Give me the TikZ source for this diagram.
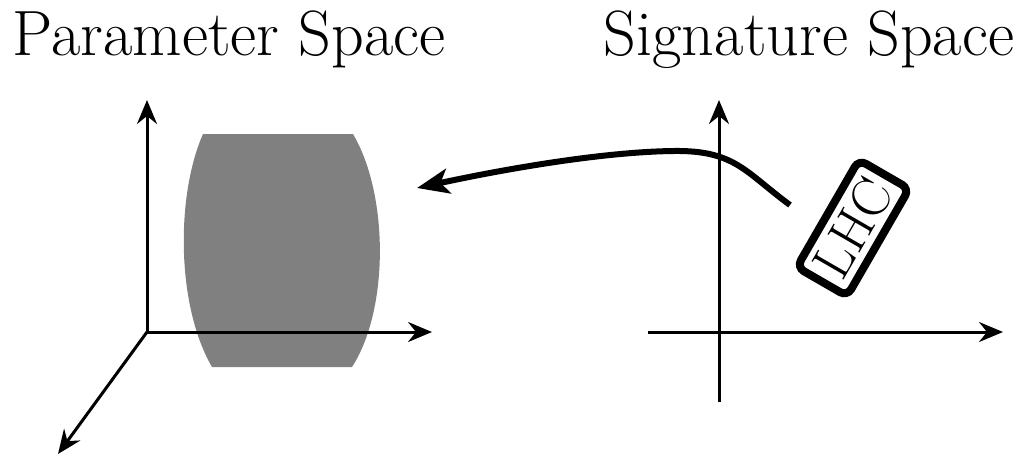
\documentclass[tikz,border=0pt]{standalone}
\usepackage{fontspec}
\usetikzlibrary{arrows.meta}
\begin{document}
\begin{tikzpicture}[x=0.5pt,y=-0.5pt,
  axis/.style={line width=1.5pt,-{Stealth[length=12pt,width=10pt,inset=4pt]}},
  title/.style={font=\fontsize{32}{38}\selectfont, anchor=base, inner sep=0pt},
  region/.style={fill=black!50, draw=none},
  lhcbox/.style={draw, line width=4pt, rounded corners=4pt, minimum width=62pt, minimum height=29pt, inner sep=0pt, rotate=60, font=\fontsize{27}{32}\selectfont},
  mapping/.style={line width=3pt, -{Stealth[length=16pt,width=12.5pt,inset=4pt]}}]
\useasboundingbox (0,0) rectangle (1021,456);
% titles
\node[title] (ptitle) at (229,55) {Parameter Space};
\node[title] (stitle) at (809,55) {Signature Space};
% gray region in parameter space
\path[region] (203,134) -- (353,134) .. controls (389,195) and (389,310) .. (352,367)
  -- (212,367) .. controls (176,305) and (176,195) .. (203,134) -- cycle;
% parameter space axes
\coordinate (po) at (147,332);
\coordinate (px) at (432,332);
\coordinate (py) at (147,100);
\coordinate (pz) at (58,454);
\draw[axis] (po) -- (px);
\draw[axis] (po) -- (py);
\draw[axis] (po) -- (pz);
% signature space axes
\coordinate (sxl) at (648,332);
\coordinate (sx) at (1003,332);
\coordinate (syb) at (719,402);
\coordinate (sy) at (719,100);
\draw[axis] (sxl) -- (sx);
\draw[axis] (syb) -- (sy);
% LHC box
\node[lhcbox] (lhc) at (853,228) {LHC};
% mapping curve
\coordinate (cs) at (790,205);
\coordinate (ce) at (417,188);
\draw[mapping] (cs) .. controls (745,172) and (735,150) .. (673,151) .. controls (600,152) and (500,170) .. (ce);
\end{tikzpicture}
\end{document}
